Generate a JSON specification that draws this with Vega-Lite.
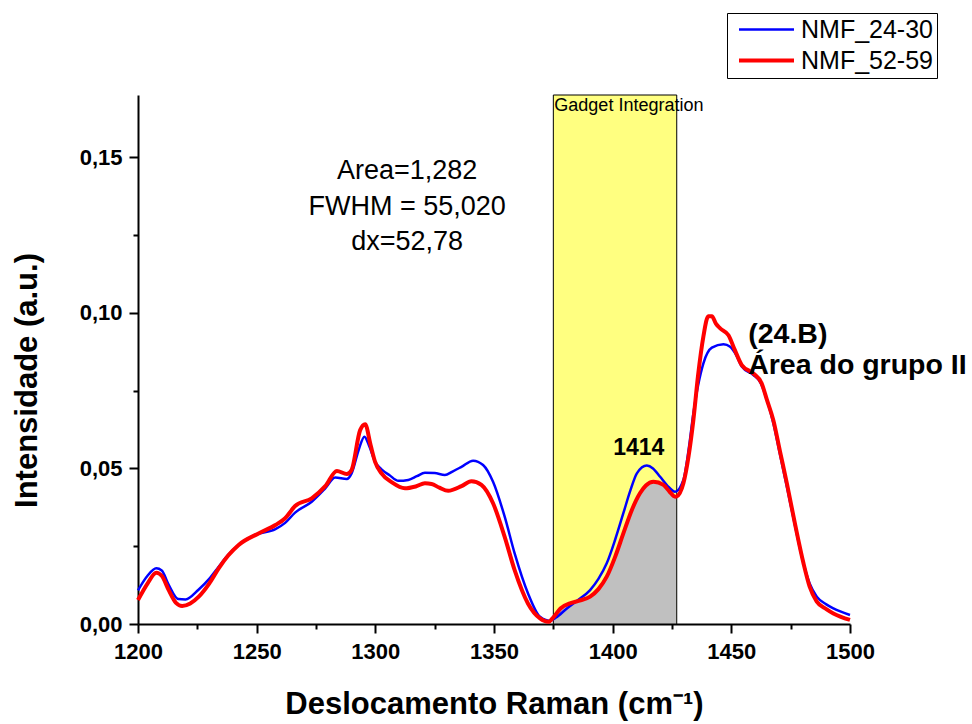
{
  "$schema": "https://vega.github.io/schema/vega-lite/v6.json",
  "width": 712,
  "height": 529,
  "autosize": {"type": "none"},
  "padding": {"left": 138, "top": 95, "right": 122, "bottom": 100},
  "background": "white",
  "config": {
    "font": "Liberation Sans",
    "view": {"stroke": null},
    "axis": {
      "grid": false,
      "domainColor": "black",
      "domainWidth": 2,
      "tickColor": "black",
      "tickWidth": 2,
      "labelColor": "black",
      "labelFontSize": 22,
      "labelFontWeight": "bold",
      "labelFont": "Liberation Sans",
      "titleColor": "black",
      "titleFont": "Liberation Sans",
      "titleFontSize": 31,
      "titleFontWeight": "bold",
      "labelOverlap": false,
      "labelFlush": false
    }
  },
  "datasets": {
    "spectra": [
      {"series": "NMF_24-30", "x": 1200, "y": 0.0108},
      {"series": "NMF_24-30", "x": 1204, "y": 0.0155},
      {"series": "NMF_24-30", "x": 1207.7, "y": 0.0179},
      {"series": "NMF_24-30", "x": 1210, "y": 0.0172},
      {"series": "NMF_24-30", "x": 1213, "y": 0.0125},
      {"series": "NMF_24-30", "x": 1217, "y": 0.0080},
      {"series": "NMF_24-30", "x": 1220, "y": 0.0079},
      {"series": "NMF_24-30", "x": 1225.6, "y": 0.0111},
      {"series": "NMF_24-30", "x": 1230, "y": 0.0145},
      {"series": "NMF_24-30", "x": 1234, "y": 0.0184},
      {"series": "NMF_24-30", "x": 1238, "y": 0.0222},
      {"series": "NMF_24-30", "x": 1242.4, "y": 0.0254},
      {"series": "NMF_24-30", "x": 1249.4, "y": 0.0286},
      {"series": "NMF_24-30", "x": 1257.9, "y": 0.0305},
      {"series": "NMF_24-30", "x": 1262, "y": 0.0325},
      {"series": "NMF_24-30", "x": 1266.2, "y": 0.0358},
      {"series": "NMF_24-30", "x": 1273.2, "y": 0.0393},
      {"series": "NMF_24-30", "x": 1278.9, "y": 0.0436},
      {"series": "NMF_24-30", "x": 1283.1, "y": 0.0471},
      {"series": "NMF_24-30", "x": 1288, "y": 0.0466},
      {"series": "NMF_24-30", "x": 1290, "y": 0.0484},
      {"series": "NMF_24-30", "x": 1293, "y": 0.0560},
      {"series": "NMF_24-30", "x": 1295.4, "y": 0.0602},
      {"series": "NMF_24-30", "x": 1297.5, "y": 0.0570},
      {"series": "NMF_24-30", "x": 1299.9, "y": 0.0521},
      {"series": "NMF_24-30", "x": 1302.6, "y": 0.0497},
      {"series": "NMF_24-30", "x": 1306, "y": 0.0478},
      {"series": "NMF_24-30", "x": 1309.7, "y": 0.0460},
      {"series": "NMF_24-30", "x": 1313.9, "y": 0.0463},
      {"series": "NMF_24-30", "x": 1317.5, "y": 0.0475},
      {"series": "NMF_24-30", "x": 1320.9, "y": 0.0486},
      {"series": "NMF_24-30", "x": 1325, "y": 0.0485},
      {"series": "NMF_24-30", "x": 1329.3, "y": 0.0479},
      {"series": "NMF_24-30", "x": 1332.5, "y": 0.0490},
      {"series": "NMF_24-30", "x": 1336.3, "y": 0.0505},
      {"series": "NMF_24-30", "x": 1341.2, "y": 0.0525},
      {"series": "NMF_24-30", "x": 1345.4, "y": 0.0511},
      {"series": "NMF_24-30", "x": 1349.6, "y": 0.0457},
      {"series": "NMF_24-30", "x": 1354.5, "y": 0.0345},
      {"series": "NMF_24-30", "x": 1358.7, "y": 0.0227},
      {"series": "NMF_24-30", "x": 1364.3, "y": 0.0099},
      {"series": "NMF_24-30", "x": 1369.4, "y": 0.0023},
      {"series": "NMF_24-30", "x": 1373.6, "y": 0.0010},
      {"series": "NMF_24-30", "x": 1376, "y": 0.0020},
      {"series": "NMF_24-30", "x": 1380.7, "y": 0.0050},
      {"series": "NMF_24-30", "x": 1385, "y": 0.0075},
      {"series": "NMF_24-30", "x": 1390.5, "y": 0.0109},
      {"series": "NMF_24-30", "x": 1394, "y": 0.0145},
      {"series": "NMF_24-30", "x": 1397.5, "y": 0.0195},
      {"series": "NMF_24-30", "x": 1401, "y": 0.0270},
      {"series": "NMF_24-30", "x": 1404.5, "y": 0.0356},
      {"series": "NMF_24-30", "x": 1407.5, "y": 0.0430},
      {"series": "NMF_24-30", "x": 1410.2, "y": 0.0484},
      {"series": "NMF_24-30", "x": 1414.4, "y": 0.0509},
      {"series": "NMF_24-30", "x": 1417, "y": 0.0500},
      {"series": "NMF_24-30", "x": 1420, "y": 0.0473},
      {"series": "NMF_24-30", "x": 1423, "y": 0.0445},
      {"series": "NMF_24-30", "x": 1426.3, "y": 0.0425},
      {"series": "NMF_24-30", "x": 1429.8, "y": 0.0463},
      {"series": "NMF_24-30", "x": 1432, "y": 0.0560},
      {"series": "NMF_24-30", "x": 1434, "y": 0.0677},
      {"series": "NMF_24-30", "x": 1438.2, "y": 0.0837},
      {"series": "NMF_24-30", "x": 1441.8, "y": 0.0888},
      {"series": "NMF_24-30", "x": 1446.7, "y": 0.0899},
      {"series": "NMF_24-30", "x": 1449.5, "y": 0.0891},
      {"series": "NMF_24-30", "x": 1452, "y": 0.0865},
      {"series": "NMF_24-30", "x": 1454.4, "y": 0.0827},
      {"series": "NMF_24-30", "x": 1459.3, "y": 0.0800},
      {"series": "NMF_24-30", "x": 1462.1, "y": 0.0778},
      {"series": "NMF_24-30", "x": 1465, "y": 0.0720},
      {"series": "NMF_24-30", "x": 1467.7, "y": 0.0645},
      {"series": "NMF_24-30", "x": 1470.5, "y": 0.0545},
      {"series": "NMF_24-30", "x": 1473.4, "y": 0.0441},
      {"series": "NMF_24-30", "x": 1477, "y": 0.0310},
      {"series": "NMF_24-30", "x": 1480.4, "y": 0.0195},
      {"series": "NMF_24-30", "x": 1483, "y": 0.0130},
      {"series": "NMF_24-30", "x": 1486, "y": 0.0088},
      {"series": "NMF_24-30", "x": 1490, "y": 0.0063},
      {"series": "NMF_24-30", "x": 1493, "y": 0.0050},
      {"series": "NMF_24-30", "x": 1500, "y": 0.0029},
      {"series": "NMF_52-59", "x": 1200, "y": 0.0077},
      {"series": "NMF_52-59", "x": 1204, "y": 0.0130},
      {"series": "NMF_52-59", "x": 1207.7, "y": 0.0165},
      {"series": "NMF_52-59", "x": 1210, "y": 0.0155},
      {"series": "NMF_52-59", "x": 1213, "y": 0.0108},
      {"series": "NMF_52-59", "x": 1216, "y": 0.0068},
      {"series": "NMF_52-59", "x": 1218.6, "y": 0.0058},
      {"series": "NMF_52-59", "x": 1222, "y": 0.0066},
      {"series": "NMF_52-59", "x": 1225.6, "y": 0.0088},
      {"series": "NMF_52-59", "x": 1230, "y": 0.0130},
      {"series": "NMF_52-59", "x": 1234, "y": 0.0179},
      {"series": "NMF_52-59", "x": 1238, "y": 0.0220},
      {"series": "NMF_52-59", "x": 1242.4, "y": 0.0254},
      {"series": "NMF_52-59", "x": 1250.8, "y": 0.0291},
      {"series": "NMF_52-59", "x": 1257.9, "y": 0.0318},
      {"series": "NMF_52-59", "x": 1262, "y": 0.0340},
      {"series": "NMF_52-59", "x": 1266.2, "y": 0.0379},
      {"series": "NMF_52-59", "x": 1273.2, "y": 0.0404},
      {"series": "NMF_52-59", "x": 1278.9, "y": 0.0443},
      {"series": "NMF_52-59", "x": 1283.8, "y": 0.0492},
      {"series": "NMF_52-59", "x": 1288, "y": 0.0482},
      {"series": "NMF_52-59", "x": 1290, "y": 0.0495},
      {"series": "NMF_52-59", "x": 1293.6, "y": 0.0623},
      {"series": "NMF_52-59", "x": 1295.7, "y": 0.0642},
      {"series": "NMF_52-59", "x": 1298, "y": 0.0575},
      {"series": "NMF_52-59", "x": 1299.9, "y": 0.0521},
      {"series": "NMF_52-59", "x": 1302.6, "y": 0.0484},
      {"series": "NMF_52-59", "x": 1307, "y": 0.0455},
      {"series": "NMF_52-59", "x": 1312.5, "y": 0.0436},
      {"series": "NMF_52-59", "x": 1317, "y": 0.0442},
      {"series": "NMF_52-59", "x": 1320.9, "y": 0.0452},
      {"series": "NMF_52-59", "x": 1323.7, "y": 0.0450},
      {"series": "NMF_52-59", "x": 1327, "y": 0.0438},
      {"series": "NMF_52-59", "x": 1330.7, "y": 0.0428},
      {"series": "NMF_52-59", "x": 1336.3, "y": 0.0443},
      {"series": "NMF_52-59", "x": 1340.5, "y": 0.0459},
      {"series": "NMF_52-59", "x": 1344.7, "y": 0.0447},
      {"series": "NMF_52-59", "x": 1349.6, "y": 0.0388},
      {"series": "NMF_52-59", "x": 1354.5, "y": 0.0280},
      {"series": "NMF_52-59", "x": 1358.7, "y": 0.0173},
      {"series": "NMF_52-59", "x": 1364.3, "y": 0.0066},
      {"series": "NMF_52-59", "x": 1369.4, "y": 0.0018},
      {"series": "NMF_52-59", "x": 1372.9, "y": 0.0007},
      {"series": "NMF_52-59", "x": 1375, "y": 0.0021},
      {"series": "NMF_52-59", "x": 1378, "y": 0.0050},
      {"series": "NMF_52-59", "x": 1382, "y": 0.0066},
      {"series": "NMF_52-59", "x": 1386, "y": 0.0075},
      {"series": "NMF_52-59", "x": 1390.5, "y": 0.0088},
      {"series": "NMF_52-59", "x": 1394, "y": 0.0112},
      {"series": "NMF_52-59", "x": 1397.5, "y": 0.0152},
      {"series": "NMF_52-59", "x": 1401, "y": 0.0215},
      {"series": "NMF_52-59", "x": 1404.5, "y": 0.0291},
      {"series": "NMF_52-59", "x": 1408, "y": 0.0365},
      {"series": "NMF_52-59", "x": 1411.5, "y": 0.0420},
      {"series": "NMF_52-59", "x": 1414, "y": 0.0445},
      {"series": "NMF_52-59", "x": 1417.2, "y": 0.0457},
      {"series": "NMF_52-59", "x": 1421.4, "y": 0.0447},
      {"series": "NMF_52-59", "x": 1424, "y": 0.0425},
      {"series": "NMF_52-59", "x": 1426.3, "y": 0.0409},
      {"series": "NMF_52-59", "x": 1427, "y": 0.0410},
      {"series": "NMF_52-59", "x": 1429.8, "y": 0.0452},
      {"series": "NMF_52-59", "x": 1432, "y": 0.0540},
      {"series": "NMF_52-59", "x": 1434, "y": 0.0655},
      {"series": "NMF_52-59", "x": 1436, "y": 0.0800},
      {"series": "NMF_52-59", "x": 1438.2, "y": 0.0923},
      {"series": "NMF_52-59", "x": 1440.3, "y": 0.0989},
      {"series": "NMF_52-59", "x": 1441.8, "y": 0.0989},
      {"series": "NMF_52-59", "x": 1443.5, "y": 0.0965},
      {"series": "NMF_52-59", "x": 1445.3, "y": 0.0950},
      {"series": "NMF_52-59", "x": 1448.8, "y": 0.0928},
      {"series": "NMF_52-59", "x": 1451.5, "y": 0.0880},
      {"series": "NMF_52-59", "x": 1454.4, "y": 0.0832},
      {"series": "NMF_52-59", "x": 1459.3, "y": 0.0805},
      {"series": "NMF_52-59", "x": 1462.8, "y": 0.0773},
      {"series": "NMF_52-59", "x": 1465, "y": 0.0720},
      {"series": "NMF_52-59", "x": 1467.7, "y": 0.0655},
      {"series": "NMF_52-59", "x": 1470.5, "y": 0.0555},
      {"series": "NMF_52-59", "x": 1473.4, "y": 0.0452},
      {"series": "NMF_52-59", "x": 1477, "y": 0.0315},
      {"series": "NMF_52-59", "x": 1480.4, "y": 0.0195},
      {"series": "NMF_52-59", "x": 1483, "y": 0.0120},
      {"series": "NMF_52-59", "x": 1486, "y": 0.0072},
      {"series": "NMF_52-59", "x": 1490, "y": 0.0048},
      {"series": "NMF_52-59", "x": 1493, "y": 0.0034},
      {"series": "NMF_52-59", "x": 1500, "y": 0.0013}
    ],
    "band": [{"start": 1375, "end": 1427, "label": "Gadget Integration"}],
    "stats": [
      {"x": 1313.4, "y": 0.1430, "text": "Area=1,282"},
      {"x": 1313.4, "y": 0.1314, "text": "FWHM = 55,020"},
      {"x": 1313.4, "y": 0.1201, "text": "dx=52,78"}
    ],
    "peak": [{"x": 1411, "y": 0.0543, "text": "1414"}],
    "group": [
      {"x": 1457.1, "y": 0.0902, "text": "(24.B)"},
      {"x": 1457.1, "y": 0.0803, "text": "Área do grupo II"}
    ]
  },
  "layer": [
    {
      "data": {"name": "band"},
      "mark": {"type": "rect", "fill": "#ffff80"},
      "encoding": {
        "x": {
          "field": "start",
          "type": "quantitative",
          "title": "Deslocamento Raman (cm⁻¹)",
          "scale": {"domain": [1200, 1500], "nice": false, "zero": false},
          "axis": {
            "values": [1200, 1225, 1250, 1275, 1300, 1325, 1350, 1375, 1400, 1425, 1450, 1475, 1500],
            "format": "d",
            "labelExpr": "datum.value % 50 === 0 ? datum.label : ''",
            "tickSize": {"condition": {"test": "datum.value % 50 === 0", "value": 9}, "value": 5},
            "labelPadding": 8,
            "titlePadding": 27
          }
        },
        "x2": {"field": "end"}
      }
    },
    {
      "data": {"name": "spectra"},
      "transform": [
        {"filter": "datum.series === 'NMF_52-59' && datum.x >= 1375 && datum.x <= 1427"}
      ],
      "mark": {"type": "area", "color": "#c0c0c0", "interpolate": "monotone"},
      "encoding": {
        "x": {"field": "x", "type": "quantitative", "title": "Deslocamento Raman (cm⁻¹)"},
        "y": {
          "field": "y",
          "type": "quantitative",
          "title": "Intensidade (a.u.)",
          "scale": {"domain": [0, 0.17], "nice": false, "zero": true},
          "axis": {
            "values": [0, 0.025, 0.05, 0.075, 0.1, 0.125, 0.15],
            "labelExpr": "round(datum.value*1000) % 50 === 0 ? replace(format(datum.value, '.2f'), '.', ',') : ''",
            "tickSize": {"condition": {"test": "round(datum.value*1000) % 50 === 0", "value": 9}, "value": 5},
            "labelPadding": 7,
            "titlePadding": 36,
            "titleY": 285
          }
        }
      }
    },
    {
      "data": {"name": "band"},
      "mark": {"type": "rect", "fill": "transparent", "stroke": "black", "strokeWidth": 1},
      "encoding": {
        "x": {"field": "start", "type": "quantitative", "title": "Deslocamento Raman (cm⁻¹)"},
        "x2": {"field": "end"}
      }
    },
    {
      "data": {"name": "spectra"},
      "transform": [{"filter": "datum.series === 'NMF_24-30'"}],
      "mark": {"type": "line", "strokeWidth": 2.5, "interpolate": "monotone"},
      "encoding": {
        "x": {"field": "x", "type": "quantitative", "title": "Deslocamento Raman (cm⁻¹)"},
        "y": {"field": "y", "type": "quantitative", "title": "Intensidade (a.u.)"},
        "color": {
          "field": "series",
          "type": "nominal",
          "scale": {"domain": ["NMF_24-30", "NMF_52-59"], "range": ["#0000ff", "#ff0000"]},
          "legend": {
            "title": null,
            "orient": "none",
            "legendX": 589,
            "legendY": -82,
            "strokeColor": "black",
            "fillColor": "white",
            "padding": 4,
            "cornerRadius": 0,
            "symbolType": "M-2.75,0H2.75",
            "symbolSize": 400,
            "symbolStrokeWidth": 3,
            "symbolOffset": 23,
            "labelOffset": 22,
            "rowPadding": 5,
            "labelFontSize": 25,
            "labelColor": "black",
            "labelFont": "Liberation Sans",
            "encode": {
              "symbols": {
                "update": {
                  "strokeWidth": {"signal": "datum.value === 'NMF_52-59' ? 4 : 2.5"}
                }
              }
            }
          }
        }
      }
    },
    {
      "data": {"name": "spectra"},
      "transform": [{"filter": "datum.series === 'NMF_52-59'"}],
      "mark": {"type": "line", "strokeWidth": 4, "interpolate": "monotone"},
      "encoding": {
        "x": {"field": "x", "type": "quantitative", "title": "Deslocamento Raman (cm⁻¹)"},
        "y": {"field": "y", "type": "quantitative", "title": "Intensidade (a.u.)"},
        "color": {"field": "series", "type": "nominal"}
      }
    },
    {
      "data": {"name": "band"},
      "mark": {"type": "text", "align": "left", "baseline": "top", "fontSize": 18, "dx": 1, "dy": 2, "color": "black"},
      "encoding": {
        "x": {"field": "start", "type": "quantitative", "title": "Deslocamento Raman (cm⁻¹)"},
        "y": {"datum": 0.17, "type": "quantitative", "title": "Intensidade (a.u.)"},
        "text": {"field": "label"}
      }
    },
    {
      "data": {"name": "stats"},
      "mark": {"type": "text", "align": "center", "baseline": "alphabetic", "fontSize": 27, "color": "black"},
      "encoding": {
        "x": {"field": "x", "type": "quantitative", "title": "Deslocamento Raman (cm⁻¹)"},
        "y": {"field": "y", "type": "quantitative", "title": "Intensidade (a.u.)"},
        "text": {"field": "text"}
      }
    },
    {
      "data": {"name": "peak"},
      "mark": {"type": "text", "align": "center", "baseline": "alphabetic", "fontSize": 23, "fontWeight": "bold", "color": "black"},
      "encoding": {
        "x": {"field": "x", "type": "quantitative", "title": "Deslocamento Raman (cm⁻¹)"},
        "y": {"field": "y", "type": "quantitative", "title": "Intensidade (a.u.)"},
        "text": {"field": "text"}
      }
    },
    {
      "data": {"name": "group"},
      "mark": {"type": "text", "align": "left", "baseline": "alphabetic", "fontSize": 28.5, "fontWeight": "bold", "color": "black"},
      "encoding": {
        "x": {"field": "x", "type": "quantitative", "title": "Deslocamento Raman (cm⁻¹)"},
        "y": {"field": "y", "type": "quantitative", "title": "Intensidade (a.u.)"},
        "text": {"field": "text"}
      }
    }
  ]
}
